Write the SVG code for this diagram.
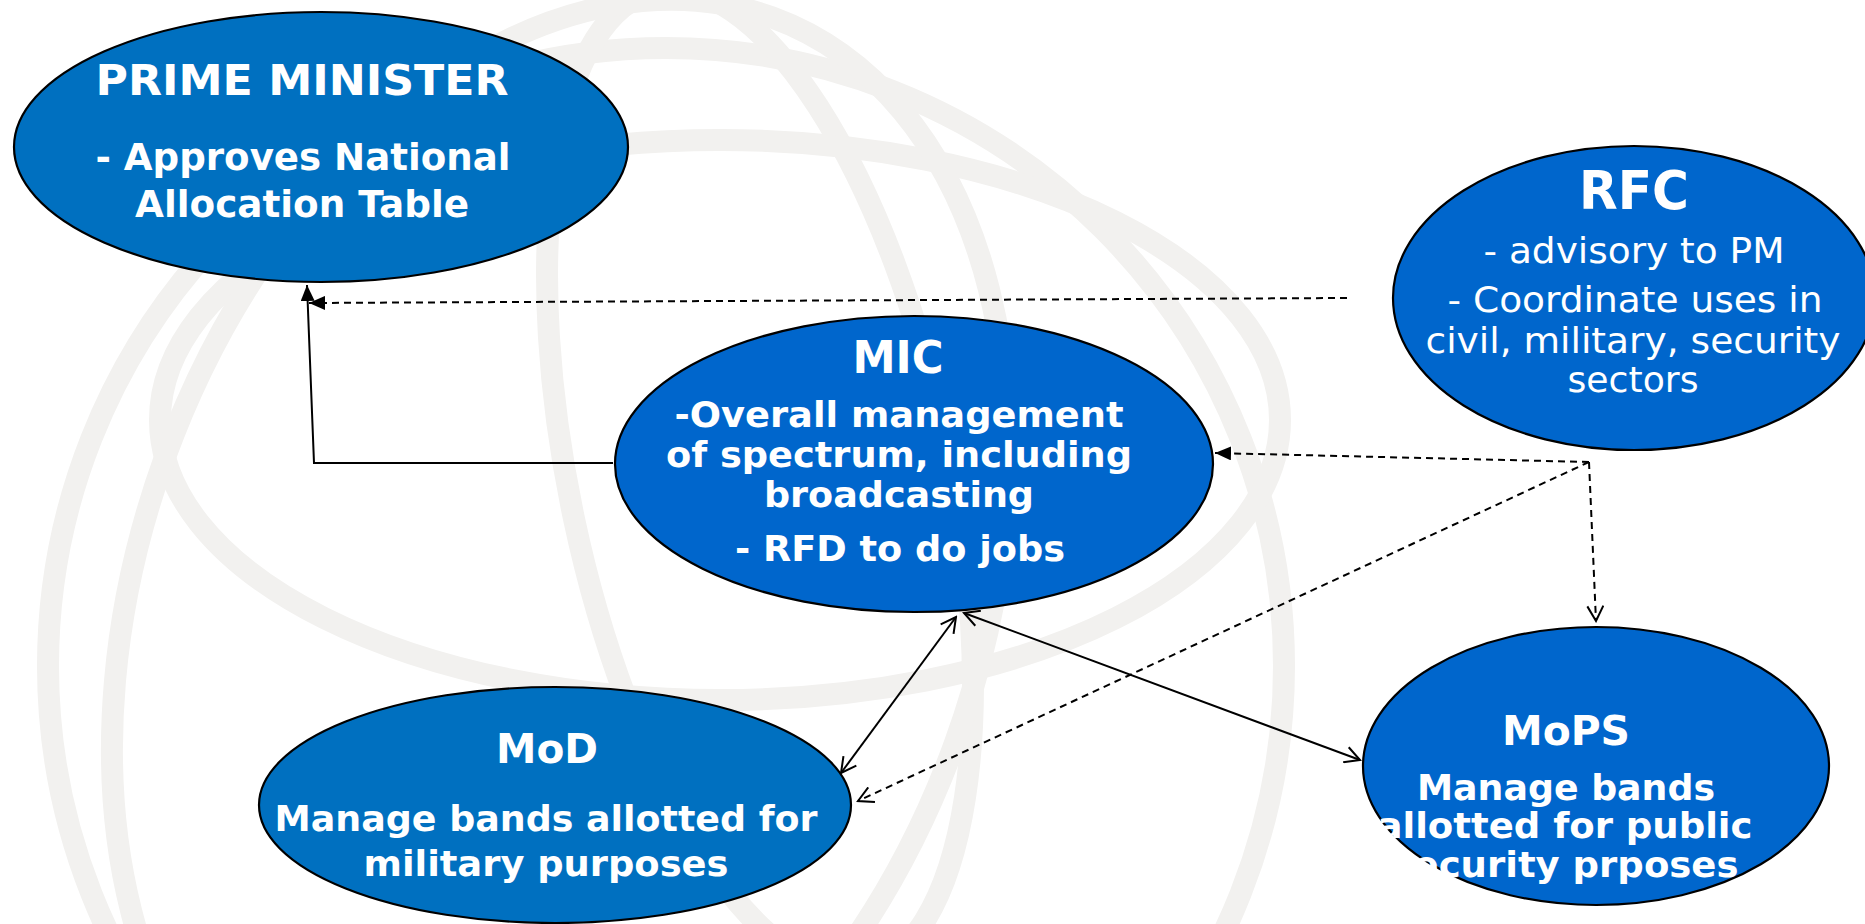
<svg xmlns="http://www.w3.org/2000/svg" width="1865" height="924" viewBox="0 0 1865 924">
<style>
.bg{fill:none;stroke:#f2f1ef;stroke-width:22}
.node{stroke:#000;stroke-width:2.2}
.a{fill:#0070C0}
.b{fill:#0066CC}
text{fill:#fff;font-family:"DejaVu Sans","Liberation Sans",sans-serif;text-anchor:middle}
.t{font-weight:bold}
.r{font-weight:normal}
.c{fill:none;stroke:#000;stroke-width:2}
.d{stroke-dasharray:7 5}
</style>
<defs>
<marker id="fa" viewBox="0 0 16 14" refX="16" refY="7" markerWidth="16" markerHeight="14" markerUnits="userSpaceOnUse" orient="auto-start-reverse">
<path d="M0,0 L16,7 L0,14 Z" fill="#000"/>
</marker>
<marker id="oa" viewBox="0 0 18 18" refX="16" refY="9" markerWidth="18" markerHeight="18" markerUnits="userSpaceOnUse" orient="auto-start-reverse">
<path d="M1,1 L16,9 L1,17" fill="none" stroke="#000" stroke-width="2"/>
</marker>
</defs>
<rect width="1865" height="924" fill="#fff"/>
<g id="watermark">
<circle class="bg" cx="666" cy="666" r="618"/>
<ellipse class="bg" cx="760" cy="480" rx="190" ry="500" transform="rotate(-12 760 480)"/>
<ellipse class="bg" cx="720" cy="420" rx="560" ry="280"/>
<ellipse class="bg" cx="560" cy="600" rx="420" ry="620" transform="rotate(20 560 600)"/>
</g>
<g id="connectors">
<polyline class="c" points="613,463 314,463 307,285" marker-end="url(#fa)"/>
<line class="c d" x1="1347" y1="298" x2="309" y2="303" marker-end="url(#fa)"/>
<line class="c d" x1="1589" y1="462" x2="1215" y2="453" stroke-width="1.8" marker-end="url(#fa)"/>
<line class="c d" x1="1589" y1="462" x2="1596" y2="621" stroke-width="1.8" marker-end="url(#oa)"/>
<line class="c d" x1="1589" y1="462" x2="858" y2="801" stroke-width="1.8" marker-end="url(#oa)"/>
<line class="c" x1="956" y1="617" x2="841" y2="773" stroke-width="1.8" marker-start="url(#oa)" marker-end="url(#oa)"/>
<line class="c" x1="964" y1="613" x2="1360" y2="760" stroke-width="1.8" marker-start="url(#oa)" marker-end="url(#oa)"/>
</g>
<g id="pm">
<ellipse class="node a" cx="321" cy="147" rx="307" ry="135"/>
<text class="t" x="302" y="95" font-size="43" textLength="413" lengthAdjust="spacingAndGlyphs">PRIME MINISTER</text>
<text class="t" x="303" y="170" font-size="38" textLength="415" lengthAdjust="spacingAndGlyphs">- Approves National</text>
<text class="t" x="302" y="217" font-size="38" textLength="334" lengthAdjust="spacingAndGlyphs">Allocation Table</text>
</g>
<g id="rfc">
<ellipse class="node b" cx="1634" cy="298" rx="241" ry="152"/>
<text class="t" x="1634" y="209" font-size="53" textLength="110" lengthAdjust="spacingAndGlyphs">RFC</text>
<text class="r" x="1634" y="263" font-size="36" textLength="301" lengthAdjust="spacingAndGlyphs">- advisory to PM</text>
<text class="r" x="1635" y="312" font-size="36" textLength="375" lengthAdjust="spacingAndGlyphs">- Coordinate uses in</text>
<text class="r" x="1633" y="353" font-size="36" textLength="415" lengthAdjust="spacingAndGlyphs">civil, military, security</text>
<text class="r" x="1633" y="392" font-size="36" textLength="131" lengthAdjust="spacingAndGlyphs">sectors</text>
</g>
<g id="mic">
<ellipse class="node b" cx="914" cy="464" rx="299" ry="148"/>
<text class="t" x="898" y="373" font-size="44" textLength="91" lengthAdjust="spacingAndGlyphs">MIC</text>
<text class="t" x="899" y="427" font-size="36" textLength="449" lengthAdjust="spacingAndGlyphs">-Overall management</text>
<text class="t" x="899" y="467" font-size="36" textLength="466" lengthAdjust="spacingAndGlyphs">of spectrum, including</text>
<text class="t" x="899" y="507" font-size="36" textLength="270" lengthAdjust="spacingAndGlyphs">broadcasting</text>
<text class="t" x="900" y="561" font-size="36" textLength="330" lengthAdjust="spacingAndGlyphs">- RFD to do jobs</text>
</g>
<g id="mod">
<ellipse class="node a" cx="555" cy="805" rx="296" ry="118"/>
<text class="t" x="547" y="763" font-size="40" textLength="102" lengthAdjust="spacingAndGlyphs">MoD</text>
<text class="t" x="546" y="831" font-size="36" textLength="543" lengthAdjust="spacingAndGlyphs">Manage bands allotted for</text>
<text class="t" x="546" y="876" font-size="36" textLength="365" lengthAdjust="spacingAndGlyphs">military purposes</text>
</g>
<g id="mops">
<ellipse class="node b" cx="1596" cy="766" rx="233" ry="139"/>
<text class="t" x="1566" y="745" font-size="41" textLength="128" lengthAdjust="spacingAndGlyphs">MoPS</text>
<text class="t" x="1566" y="800" font-size="35" textLength="298" lengthAdjust="spacingAndGlyphs">Manage bands</text>
<text class="t" x="1565" y="838" font-size="35" textLength="375" lengthAdjust="spacingAndGlyphs">allotted for public</text>
<text class="t" x="1565" y="877" font-size="35" textLength="347" lengthAdjust="spacingAndGlyphs">security prposes</text>
</g>
</svg>
